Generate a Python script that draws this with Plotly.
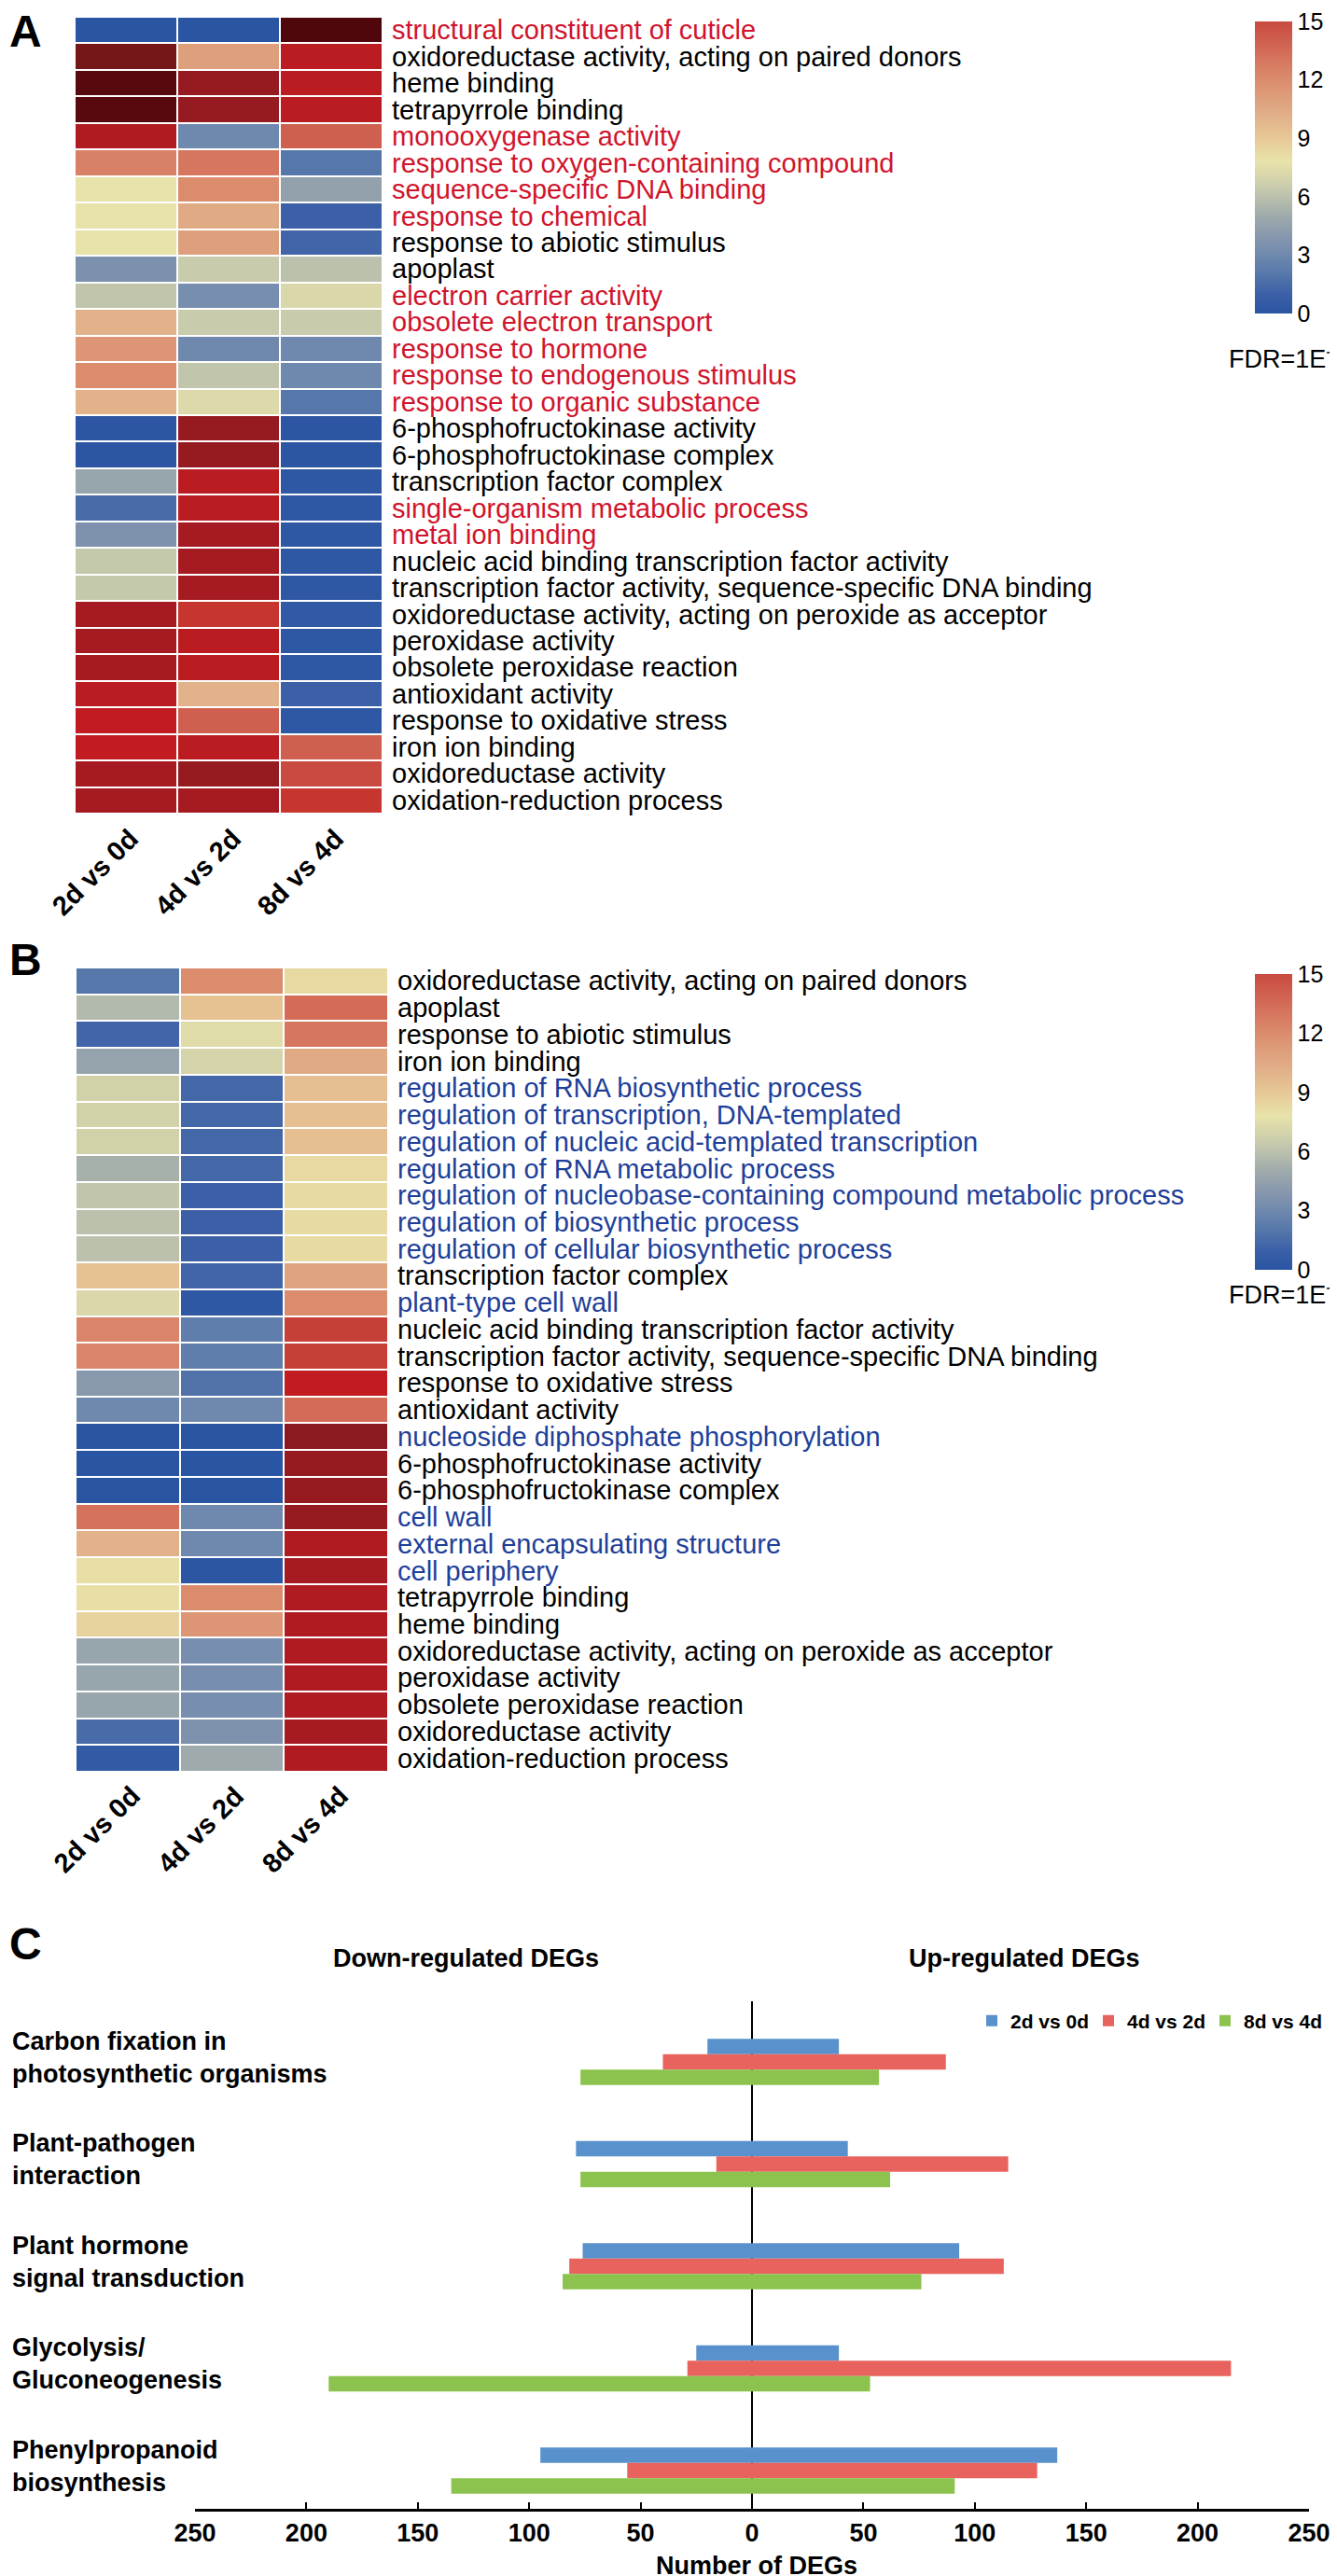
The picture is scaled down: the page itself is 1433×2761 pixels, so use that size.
import plotly.graph_objects as go

W, H = 1433, 2761
def fx(p): return p / W
def fy(p): return 1 - p / H

FONT = "Liberation Sans, Arial, sans-serif"
RED_T = "#d0142c"
BLUE_T = "#1e3f99"

# ---------------- data ----------------
comparisons = ["2d vs 0d", "4d vs 2d", "8d vs 4d"]

a_terms = [
    "structural constituent of cuticle",
    "oxidoreductase activity, acting on paired donors",
    "heme binding",
    "tetrapyrrole binding",
    "monooxygenase activity",
    "response to oxygen-containing compound",
    "sequence-specific DNA binding",
    "response to chemical",
    "response to abiotic stimulus",
    "apoplast",
    "electron carrier activity",
    "obsolete electron transport",
    "response to hormone",
    "response to endogenous stimulus",
    "response to organic substance",
    "6-phosphofructokinase activity",
    "6-phosphofructokinase complex",
    "transcription factor complex",
    "single-organism metabolic process",
    "metal ion binding",
    "nucleic acid binding transcription factor activity",
    "transcription factor activity, sequence-specific DNA binding",
    "oxidoreductase activity, acting on peroxide as acceptor",
    "peroxidase activity",
    "obsolete peroxidase reaction",
    "antioxidant activity",
    "response to oxidative stress",
    "iron ion binding",
    "oxidoreductase activity",
    "oxidation-reduction process",
]
a_highlight = [1, 0, 0, 0, 1, 1, 1, 1, 0, 0, 1, 1, 1, 1, 1,
               0, 0, 0, 1, 1, 0, 0, 0, 0, 0, 0, 0, 0, 0, 0]
a_2d0d = [0, 25, 27, 27, 20, 12.5, 7.8, 7.8, 7.8, 3.5, 6.2, 10, 11.5, 12, 10,
          0.1, 0.1, 4.7, 1.5, 3.6, 6.4, 6.4, 21, 21, 21, 19, 18.5, 18.5, 21, 21]
a_4d2d = [0, 11, 22, 22, 3, 13, 12, 10.5, 11, 6.5, 3.3, 6.5, 3, 6.2, 7.3,
          22, 22, 19, 19, 21, 21, 21, 16, 19, 19, 10, 14, 19, 22, 21]
a_8d4d = [28, 19, 19, 19, 14, 2, 4.5, 1, 1.2, 6, 7.2, 6.5, 3, 3, 2,
          0.1, 0.1, 0.3, 0.3, 0.3, 0.3, 0.3, 0.4, 0.3, 0.3, 1, 0.3, 14, 15, 16]

b_terms = [
    "oxidoreductase activity, acting on paired donors",
    "apoplast",
    "response to abiotic stimulus",
    "iron ion binding",
    "regulation of RNA biosynthetic process",
    "regulation of transcription, DNA-templated",
    "regulation of nucleic acid-templated transcription",
    "regulation of RNA metabolic process",
    "regulation of nucleobase-containing compound metabolic process",
    "regulation of biosynthetic process",
    "regulation of cellular biosynthetic process",
    "transcription factor complex",
    "plant-type cell wall",
    "nucleic acid binding transcription factor activity",
    "transcription factor activity, sequence-specific DNA binding",
    "response to oxidative stress",
    "antioxidant activity",
    "nucleoside diphosphate phosphorylation",
    "6-phosphofructokinase activity",
    "6-phosphofructokinase complex",
    "cell wall",
    "external encapsulating structure",
    "cell periphery",
    "tetrapyrrole binding",
    "heme binding",
    "oxidoreductase activity, acting on peroxide as acceptor",
    "peroxidase activity",
    "obsolete peroxidase reaction",
    "oxidoreductase activity",
    "oxidation-reduction process",
]
b_highlight = [0, 0, 0, 0, 1, 1, 1, 1, 1, 1, 1, 0, 1, 0, 0,
               0, 0, 1, 0, 0, 1, 1, 1, 0, 0, 0, 0, 0, 0, 0]
b_2d0d = [2, 5.7, 1.2, 4.6, 6.9, 6.9, 6.9, 5.3, 6.2, 6, 6, 9.3, 7.2, 12.3, 12.3,
          4, 3, 0, 0, 0, 13.2, 10, 8, 8, 8.5, 4.7, 4.7, 4.7, 1.5, 0.5]
b_4d2d = [12, 9.3, 7.4, 7, 1.3, 1.3, 1.3, 1.3, 1, 1, 1, 1.2, 0.2, 2.4, 2.4,
          1.8, 3, 0, 0, 0, 3, 3, 0.1, 12, 11.5, 3.3, 3.3, 3.3, 3.6, 5]
b_8d4d = [8.3, 13.5, 13, 10.5, 9.5, 9.5, 9.5, 8.3, 8.2, 8.2, 8.2, 10.8, 12, 15.5, 15.5,
          18.5, 13.5, 23, 22, 22, 22, 20, 21, 20, 20, 20, 20, 20, 21, 20]

cb_ticks = [0, 3, 6, 9, 12, 15]

pathways = [
    "Carbon fixation in<br>photosynthetic organisms",
    "Plant-pathogen<br>interaction",
    "Plant hormone<br>signal transduction",
    "Glycolysis/<br>Gluconeogenesis",
    "Phenylpropanoid<br>biosynthesis",
]
down_2d0d = [20, 79, 76, 25, 95]
up_2d0d = [39, 43, 93, 39, 137]
down_4d2d = [40, 16, 82, 29, 56]
up_4d2d = [87, 115, 113, 215, 128]
down_8d4d = [77, 77, 85, 190, 135]
up_8d4d = [57, 62, 76, 53, 91]
x_ticks = [-250, -200, -150, -100, -50, 0, 50, 100, 150, 200, 250]
x_ticktext = ["250", "200", "150", "100", "50", "0", "50", "100", "150", "200", "250"]

# ---------------- colour scales ----------------
stops = [
    (0, "#2a55a3"), (1, "#3c60a7"), (2, "#5577aa"), (3, "#6f89ae"), (4, "#8898ad"),
    (5, "#9eaaab"), (6, "#bbc1ad"), (7, "#d5d4aa"), (7.8, "#e8e3aa"), (9, "#e7c896"),
    (10, "#e2b38b"), (11, "#dea07c"), (12, "#db8c6d"), (13, "#d6765e"), (14, "#cf604f"),
    (15, "#c84a40"), (16, "#c6362f"), (17, "#c32a27"), (18.5, "#c01c21"), (20, "#b01b21"),
    (21, "#a51b21"), (22, "#961b21"), (23, "#8a1a20"), (25, "#751618"), (27, "#58090e"),
    (28, "#4f070c"),
]
ZMAX = 28
ext_scale = [[v / ZMAX, c] for v, c in stops]
cb_scale = [[v / 15, c] for v, c in stops if v <= 15]

fig = go.Figure()

def add_heatmap(terms, cols, xa, ya, cb_top, cb_bot):
    z = [list(r) for r in zip(*cols)]
    fig.add_trace(go.Heatmap(
        z=z, x=comparisons, y=terms, colorscale=ext_scale, zmin=0, zmax=ZMAX,
        xgap=2, ygap=2, showscale=False, xaxis=xa, yaxis=ya))
    fig.add_trace(go.Scatter(
        x=[comparisons[0]], y=[terms[0]], mode="markers", xaxis=xa, yaxis=ya,
        showlegend=False, hoverinfo="skip",
        marker=dict(size=1, opacity=0, color=[0], cmin=0, cmax=15,
                    colorscale=cb_scale, showscale=True,
                    colorbar=dict(x=fx(1337), xanchor="left",
                                  y=fy((cb_top + cb_bot) / 2), yanchor="middle",
                                  len=cb_bot - cb_top, lenmode="pixels", thickness=40,
                                  thicknessmode="pixels", outlinewidth=0, xpad=0, ypad=0,
                                  tickvals=cb_ticks, ticks="",
                                  tickfont=dict(family=FONT, size=25, color="black")))))

add_heatmap(a_terms, [a_2d0d, a_4d2d, a_8d4d], "x", "y", 15, 328)
add_heatmap(b_terms, [b_2d0d, b_4d2d, b_8d4d], "x2", "y2", 1036, 1353)

series = [
    ("2d vs 0d", down_2d0d, up_2d0d, "#5891cb"),
    ("4d vs 2d", down_4d2d, up_4d2d, "#e8625e"),
    ("8d vs 4d", down_8d4d, up_8d4d, "#8cc34e"),
]
for name, dn, up, col in series:
    fig.add_trace(go.Bar(y=pathways, x=[-d for d in dn], orientation="h", name=name,
                         marker=dict(color=col, line=dict(width=0)), offsetgroup=name,
                         legendgroup=name, showlegend=False, xaxis="x3", yaxis="y3"))
    fig.add_trace(go.Bar(y=pathways, x=up, orientation="h", name=name,
                         marker=dict(color=col, line=dict(width=0)), offsetgroup=name,
                         legendgroup=name, showlegend=True, xaxis="x3", yaxis="y3"))

ann = []
def add_labels(terms, hl, ya, xpx, hlcol):
    for t, h in zip(terms, hl):
        ann.append(dict(text=t, x=fx(xpx), xref="paper", y=t, yref=ya, xanchor="left",
                        yanchor="middle", showarrow=False,
                        font=dict(family=FONT, size=29, color=hlcol if h else "black")))

add_labels(a_terms, a_highlight, "y", 410, RED_T)
add_labels(b_terms, b_highlight, "y2", 416, BLUE_T)

for xa, ybot in (("x", 872), ("x2", 1898)):
    for c in comparisons:
        ann.append(dict(text=c, x=c, xref=xa, y=fy(ybot), yref="paper", xanchor="right",
                        yanchor="top", xshift=22, textangle=-45, showarrow=False,
                        font=dict(family=FONT, size=29, color="black", weight="bold")))

for cb_y in (377, 1380):
    ann.append(dict(text="FDR=1E\u207b", x=fx(1424), y=fy(cb_y), xref="paper",
                    yref="paper", showarrow=False, xanchor="right", yanchor="middle",
                    font=dict(family=FONT, size=27, color="black")))

for lab, py in (("A", 26), ("B", 1020), ("C", 2075)):
    ann.append(dict(text=lab, x=0, y=fy(py), xref="paper", yref="paper", showarrow=False,
                    xanchor="left", yanchor="middle",
                    font=dict(family=FONT, size=48, color="black", weight="bold")))

for t, px in (("Down-regulated DEGs", 491), ("Up-regulated DEGs", 1090)):
    ann.append(dict(text=t, x=fx(px), y=fy(2091), xref="paper", yref="paper",
                    showarrow=False, xanchor="center", yanchor="middle",
                    font=dict(family=FONT, size=27, color="black", weight="bold")))

for p in pathways:
    ann.append(dict(text=p, x=fx(3), xref="paper", y=p, yref="y3", xanchor="left",
                    yanchor="middle", align="left", yshift=5, showarrow=False,
                    font=dict(family=FONT, size=27, color="black", weight="bold")))

ann.append(dict(text="Number of DEGs", x=fx(803), y=fy(2742), xref="paper", yref="paper",
                showarrow=False, xanchor="center", yanchor="middle",
                font=dict(family=FONT, size=27, color="black", weight="bold")))

hm_axis = dict(showticklabels=False, showgrid=False, zeroline=False, showline=False, ticks="")
grp = 109.5
fig.update_layout(
    width=W, height=H, margin=dict(l=0, r=0, t=0, b=0, autoexpand=False),
    paper_bgcolor="white", plot_bgcolor="white",
    font=dict(family=FONT, color="black"),
    xaxis=dict(domain=[fx(72), fx(402)], anchor="y", range=[-0.5, 2.5], **hm_axis),
    yaxis=dict(domain=[fy(864), fy(10)], anchor="x", range=[29.5, -0.5], **hm_axis),
    xaxis2=dict(domain=[fx(73), fx(408)], anchor="y2", range=[-0.5, 2.5], **hm_axis),
    yaxis2=dict(domain=[fy(1891), fy(1029)], anchor="x2", range=[29.5, -0.5], **hm_axis),
    xaxis3=dict(domain=[fx(201), fx(1395)], anchor="y3", range=[-250, 250],
                tickvals=x_ticks, ticktext=x_ticktext, showgrid=False, zeroline=True,
                zerolinecolor="black", zerolinewidth=2, showline=True, linecolor="black",
                linewidth=3, ticks="inside", ticklen=7, tickwidth=2, tickcolor="black",
                ticklabelstandoff=0,
                tickfont=dict(family=FONT, size=27, color="black", weight="bold")),
    yaxis3=dict(domain=[fy(2681), fy(2137)], anchor="x3",
                range=[(2681 - 2202) / grp, -(2202 - 2137) / grp],
                showticklabels=False, showgrid=False, zeroline=False, showline=False,
                ticks=""),
    barmode="group", bargap=0.548, bargroupgap=0,
    legend=dict(orientation="h", x=fx(1035), y=fy(2158), xanchor="left", yanchor="middle",
                bgcolor="rgba(0,0,0,0)", itemwidth=30, entrywidth=80,
                entrywidthmode="pixels",
                font=dict(family=FONT, size=21, color="black", weight="bold")),
    annotations=ann,
    hovermode=False,
)

fig.write_html("out.html")
